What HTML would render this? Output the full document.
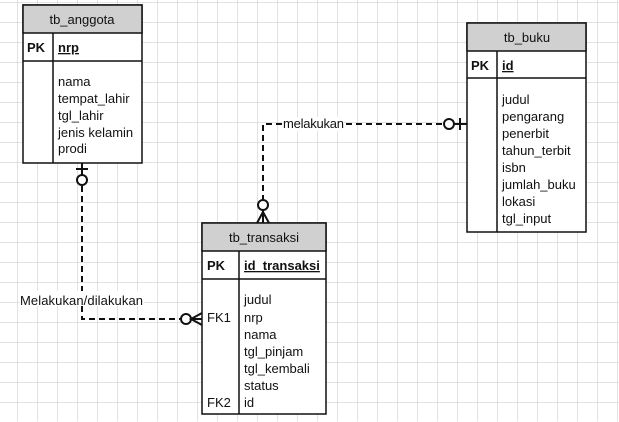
<!DOCTYPE html>
<html><head><meta charset="utf-8"><style>
html,body{margin:0;padding:0;background:#fff}
svg{display:block}
text{font-family:"Liberation Sans",sans-serif;font-size:13px;fill:#111}
</style></head><body>
<svg width="619" height="422" viewBox="0 0 619 422" xmlns="http://www.w3.org/2000/svg">
<defs>
<pattern id="g" width="20" height="20" patternUnits="userSpaceOnUse" x="18" y="3">
<path d="M0 0H20M0 0V20" stroke="#c4c4c4" stroke-width="1" fill="none"/>
</pattern>
</defs>
<rect width="619" height="422" fill="url(#g)" transform="translate(-0.5,-0.5)"/>

<!-- connectors -->
<g stroke="#111" stroke-width="2" fill="none">
<path d="M82 186V319H180" stroke-dasharray="6,4"/>
<path d="M263 201V124H444" stroke-dasharray="6,4"/>
<line x1="76" y1="169" x2="88" y2="169"/>
<line x1="82" y1="163" x2="82" y2="175"/>
<circle cx="82" cy="180" r="5" fill="#fff"/>
<circle cx="186" cy="319" r="5" fill="#fff"/>
<path d="M191 319H202M202 313L191 319L202 325"/>
<circle cx="263" cy="205" r="5" fill="#fff"/>
<path d="M263 210V223M257 223L263 212L269 223"/>
<circle cx="449" cy="124" r="5" fill="#fff"/>
<path d="M454 124H467M460 118V130"/>
</g>
<rect x="20" y="291" width="124" height="15" fill="#fff"/>
<text x="20" y="305" textLength="123">Melakukan/dilakukan</text>
<rect x="282" y="117" width="62" height="14" fill="#fff"/>
<text x="283" y="128" textLength="61">melakukan</text>

<!-- tb_anggota -->
<g stroke="#111" stroke-width="1.5">
<rect x="23" y="5" width="119" height="158" fill="#fff"/>
<rect x="23" y="5" width="119" height="28" fill="#d0d0d0"/>
<line x1="23" y1="61" x2="142" y2="61"/>
<line x1="53" y1="33" x2="53" y2="163"/>
</g>
<text x="82" y="24" text-anchor="middle">tb_anggota</text>
<text x="27" y="52" font-weight="bold">PK</text>
<text x="58" y="52" font-weight="bold" text-decoration="underline">nrp</text>
<text x="58" y="86">nama</text>
<text x="58" y="103">tempat_lahir</text>
<text x="58" y="120">tgl_lahir</text>
<text x="58" y="137">jenis kelamin</text>
<text x="58" y="153">prodi</text>

<!-- tb_buku -->
<g stroke="#111" stroke-width="1.5">
<rect x="467" y="23" width="119" height="209" fill="#fff"/>
<rect x="467" y="23" width="119" height="28" fill="#d0d0d0"/>
<line x1="467" y1="78" x2="586" y2="78"/>
<line x1="497" y1="51" x2="497" y2="232"/>
</g>
<text x="527" y="42" text-anchor="middle">tb_buku</text>
<text x="471" y="70" font-weight="bold">PK</text>
<text x="502" y="70" font-weight="bold" text-decoration="underline">id</text>
<text x="502" y="104">judul</text>
<text x="502" y="121">pengarang</text>
<text x="502" y="138">penerbit</text>
<text x="502" y="155">tahun_terbit</text>
<text x="502" y="172">isbn</text>
<text x="502" y="189">jumlah_buku</text>
<text x="502" y="206">lokasi</text>
<text x="502" y="223">tgl_input</text>

<!-- tb_transaksi -->
<g stroke="#111" stroke-width="1.5">
<rect x="202" y="223" width="124" height="191" fill="#fff"/>
<rect x="202" y="223" width="124" height="28" fill="#d0d0d0"/>
<line x1="202" y1="279" x2="326" y2="279"/>
<line x1="239" y1="251" x2="239" y2="414"/>
</g>
<text x="264" y="242" text-anchor="middle">tb_transaksi</text>
<text x="207" y="270" font-weight="bold">PK</text>
<text x="244" y="270" font-weight="bold" text-decoration="underline">id_transaksi</text>
<text x="244" y="304">judul</text>
<text x="207" y="322">FK1</text>
<text x="244" y="322">nrp</text>
<text x="244" y="339">nama</text>
<text x="244" y="356">tgl_pinjam</text>
<text x="244" y="373">tgl_kembali</text>
<text x="244" y="390">status</text>
<text x="207" y="407">FK2</text>
<text x="244" y="407">id</text>
</svg>
</body></html>
